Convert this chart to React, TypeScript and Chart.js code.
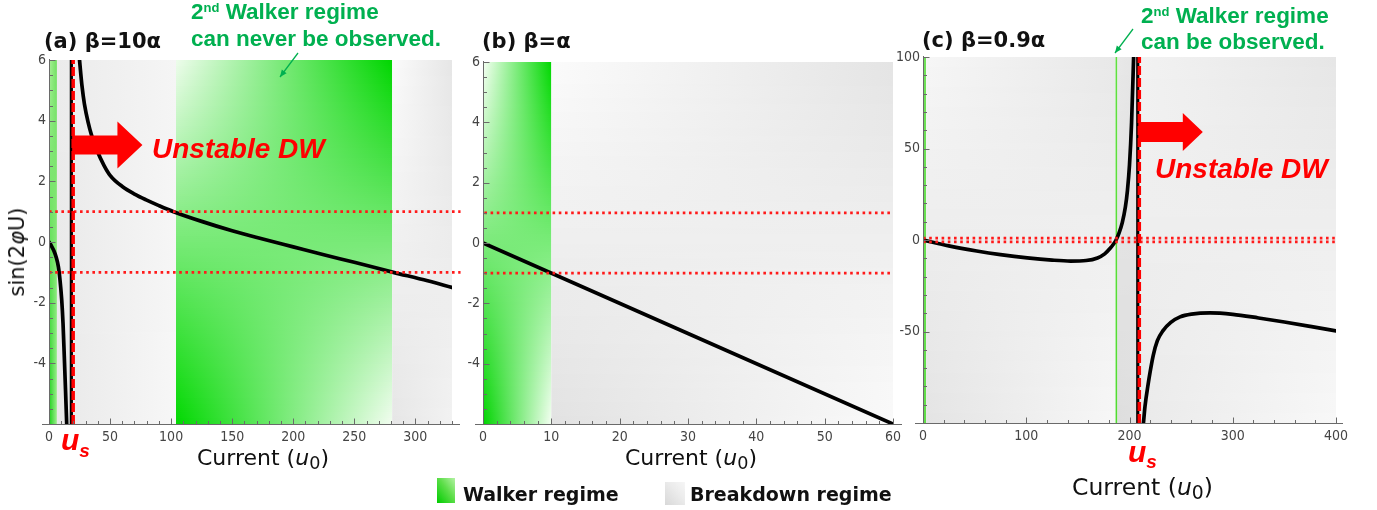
import React, { useEffect, useRef } from "react";
import { Chart, registerables } from "chart.js";
Chart.register(...registerables);

/* ---------------- data ---------------- */
// (a) beta = 10 alpha
const aLeftU = [0, 2, 4, 6, 7.7, 9, 10.4, 11.5, 12.5, 13.5, 14.5];
const aLeftY = [0, -0.13, -0.29, -0.52, -0.82, -1.25, -1.9, -2.7, -3.75, -4.85, -6.0];
const aRightU = [25, 26, 27, 29, 32, 35, 39.5, 45, 50, 60, 70, 80, 90, 102, 125, 150, 175, 200, 225, 250, 282, 310, 330];
const aRightY = [6.0, 5.55, 5.15, 4.55, 3.95, 3.5, 3.0, 2.53, 2.2, 1.83, 1.58, 1.38, 1.2, 1.0, 0.68, 0.37, 0.1, -0.16, -0.42, -0.67, -1.0, -1.28, -1.5];
const aJumpU = 18.3;
const aUs = 19.8;
const aRegionBounds = [0, 6.5, 104, 281, 330];
const aRegionKinds = ["walker", "breakdown", "walker", "breakdown"];
const aXTicks = [0, 50, 100, 150, 200, 250, 300];
const aYTicks = [-4, -2, 0, 2, 4, 6];
const aLimits = [1, -1];

// (b) beta = alpha
const bLineU = [0, 60];
const bLineY = [0, -6];
const bRegionBounds = [0, 10, 60];
const bRegionKinds = ["walker", "breakdown"];
const bXTicks = [0, 10, 20, 30, 40, 50, 60];
const bYTicks = [-4, -2, 0, 2, 4, 6];
const bLimits = [1, -1];

// (c) beta = 0.9 alpha
const cLeftU = [0, 25, 52, 75, 101, 125, 143, 158, 169, 176, 181.5, 184, 187, 190, 193, 196, 198, 200, 202, 204];
const cLeftY = [0, -3.2, -6, -8, -9.8, -11, -11.5, -11.2, -9.8, -7.6, -4.4, -2.6, 0, 4, 9.5, 18, 27, 41, 64, 100];
const cRightU = [213.5, 215, 218, 220, 223, 227, 232.5, 240, 249, 260, 278, 300, 325, 350, 375, 400];
const cRightY = [-100, -91, -79, -72, -63, -55, -49.5, -45, -42, -40.5, -39.8, -40.6, -42.6, -44.8, -47.2, -49.7];
const cJumpU = 208;
const cUs = 209.5;
const cRegionBounds = [0, 3, 186.5, 188.3, 209.5, 400];
const cRegionKinds = ["walker", "breakdown", "walker", "breakdown", "breakdown"];
const cXTicks = [0, 100, 200, 300, 400];
const cYTicks = [-50, 0, 50, 100];
const cLimits = [1, -1];

/* ---------------- styles ---------------- */
type Shade = [string, string, string, string]; // TL, TR, BL, BR
const WALKER_BIG: Shade = ["#eefcec", "#00d600", "#00d800", "#f2fdf0"];

const aShades: Shade[] = [
  ["#a8f098", "#70e060", "#18d018", "#a0ee90"],
  ["#ebebeb", "#f5f5f5", "#e9e9e9", "#f7f7f7"],
  WALKER_BIG,
  ["#fbfbfb", "#e6e6e6", "#e6e6e6", "#f2f2f2"],
];
const bShades: Shade[] = [
  ["#f6fff4", "#00d800", "#00d400", "#f4fff2"],
  ["#fbfbfb", "#e4e4e4", "#e2e2e2", "#fafafa"],
];
const cShades: Shade[] = [
  ["#70e058", "#70e058", "#60dc48", "#60dc48"],
  ["#f6f6f6", "#e8e8e8", "#e4e4e4", "#f7f7f7"],
  ["#60e040", "#60e040", "#50dc30", "#50dc30"],
  ["#e8e8e8", "#e4e4e4", "#dedede", "#e0e0e0"],
  ["#f2f2f2", "#e6e6e6", "#eaeaea", "#f8f8f8"],
];

const TICK_FONT = '"Liberation Sans Narrow", "DejaVu Sans Condensed", "Liberation Sans", sans-serif';
const SANS = '"Liberation Sans", Arial, sans-serif';
const DEJAVU = '"DejaVu Sans", Verdana, sans-serif';
const GREEN = "#00b050";
const RED = "#ff0000";

function hexToRgb(h: string) {
  const n = parseInt(h.slice(1), 16);
  return [(n >> 16) & 255, (n >> 8) & 255, n & 255];
}
function mixHex(a: string, b: string, t: number) {
  const A = hexToRgb(a), B = hexToRgb(b);
  return `rgb(${A.map((v, i) => Math.round(v + (B[i] - v) * t)).join(",")})`;
}
function saddle(ctx: CanvasRenderingContext2D, x0: number, y0: number, x1: number, y1: number, s: Shade) {
  const [tl, tr, bl, br] = s;
  const h = y1 - y0;
  const n = Math.max(1, Math.ceil(h / 2));
  for (let i = 0; i < n; i++) {
    const t = (i + 0.5) / n;
    const g = ctx.createLinearGradient(x0, 0, x1, 0);
    g.addColorStop(0, mixHex(tl, bl, t));
    g.addColorStop(1, mixHex(tr, br, t));
    ctx.fillStyle = g;
    const ya = Math.floor(y0 + (h * i) / n);
    const yb = Math.ceil(y0 + (h * (i + 1)) / n);
    ctx.fillRect(x0, ya, x1 - x0, yb - ya);
  }
}

interface PanelCfg {
  area: { left: number; right: number; top: number; bottom: number };
  x: [number, number];
  y: [number, number];
  xTicks: number[];
  yTicks: number[];
  xMinor: number;
  yMinor: number;
  axisExt: [number, number];
  bounds: number[];
  kinds: string[];
  shades: Shade[];
  curves: [number[], number[]][];
  jump: number | null;
  us: number | null;
  limits: number[];
  limitRange: [number, number];
  arrow?: { tip: number; y: number; body: number; head: number; headL: number };
  note?: [number, number, number, number];
}

function makeChart(canvas: HTMLCanvasElement, c: PanelCfg) {
  const W = 40, H = 30;
  const pts = (u: number[], v: number[]) => u.map((x, i) => ({ x, y: v[i] }));
  const datasets: any[] = [];
  if (c.us !== null)
    datasets.push({
      data: [{ x: c.us, y: c.y[0] }, { x: c.us, y: c.y[1] }],
      borderColor: RED, borderWidth: 3.5, borderDash: [9, 3], showLine: true, pointRadius: 0,
    });
  c.limits.forEach((l) =>
    datasets.push({
      data: [{ x: c.limitRange[0], y: l }, { x: c.limitRange[1], y: l }],
      borderColor: "#ff1a1a", borderWidth: 2.6, borderDash: [2.6, 3.6], showLine: true, pointRadius: 0, clip: false,
    })
  );
  if (c.jump !== null)
    datasets.push({
      data: [{ x: c.jump, y: c.y[0] }, { x: c.jump, y: c.y[1] }],
      borderColor: "#000", borderWidth: 3.2, showLine: true, pointRadius: 0,
    });
  c.curves.forEach(([u, v]) =>
    datasets.push({
      data: pts(u, v), borderColor: "#000", borderWidth: 3.7, showLine: true, pointRadius: 0,
      cubicInterpolationMode: "monotone", borderCapStyle: "round", borderJoinStyle: "round",
    })
  );

  const regionPlugin = {
    id: "regions",
    beforeDatasetsDraw(chart: any) {
      const { ctx, chartArea: ca, scales } = chart;
      ctx.save();
      for (let i = 0; i < c.bounds.length - 1; i++) {
        const x0 = scales.x.getPixelForValue(c.bounds[i]);
        const x1 = scales.x.getPixelForValue(c.bounds[i + 1]);
        saddle(ctx, x0, ca.top, x1, ca.bottom, c.shades[i]);
      }
      ctx.restore();
    },
  };

  const axisPlugin = {
    id: "axesInside",
    afterDatasetsDraw(chart: any) {
      const { ctx, chartArea: ca, scales } = chart;
      const xs = scales.x, ys = scales.y;
      ctx.save();
      ctx.strokeStyle = "#6a6a6a";
      ctx.lineWidth = 1;
      ctx.beginPath();
      const by = Math.round(ca.bottom) + 0.5;
      const lx = Math.round(ca.left) + 0.5;
      ctx.moveTo(ca.left - c.axisExt[0], by);
      ctx.lineTo(ca.right + c.axisExt[1], by);
      ctx.moveTo(lx, ca.top - 1);
      ctx.lineTo(lx, ca.bottom);
      for (let v = c.x[0]; v <= c.x[1] + 1e-9; v += c.xMinor) {
        const major = c.xTicks.some((t) => Math.abs(t - v) < 1e-6);
        const px = Math.round(xs.getPixelForValue(v)) + 0.5;
        ctx.moveTo(px, by);
        ctx.lineTo(px, by - (major ? 6 : 3.5));
      }
      for (let v = c.y[0]; v <= c.y[1] + 1e-9; v += c.yMinor) {
        const major = c.yTicks.some((t) => Math.abs(t - v) < 1e-6);
        const py = Math.round(ys.getPixelForValue(v)) + 0.5;
        ctx.moveTo(lx, py);
        ctx.lineTo(lx + (major ? 6 : 3.5), py);
      }
      ctx.stroke();
      ctx.restore();
    },
    afterDraw(chart: any) {
      const { ctx, scales } = chart;
      ctx.save();
      if (c.arrow && c.us !== null) {
        const a = c.arrow;
        const xs0 = scales.x.getPixelForValue(c.us) - 1;
        const xt = scales.x.getPixelForValue(a.tip);
        const yc = scales.y.getPixelForValue(a.y);
        ctx.beginPath();
        ctx.moveTo(xs0, yc - a.body / 2);
        ctx.lineTo(xt - a.headL, yc - a.body / 2);
        ctx.lineTo(xt - a.headL, yc - a.head / 2);
        ctx.lineTo(xt, yc);
        ctx.lineTo(xt - a.headL, yc + a.head / 2);
        ctx.lineTo(xt - a.headL, yc + a.body / 2);
        ctx.lineTo(xs0, yc + a.body / 2);
        ctx.closePath();
        ctx.fillStyle = RED;
        ctx.fill();
      }
      if (c.note) {
        const [x0, y0, x1, y1] = c.note;
        ctx.strokeStyle = GREEN;
        ctx.fillStyle = GREEN;
        ctx.lineWidth = 1.3;
        ctx.beginPath();
        ctx.moveTo(x0, y0);
        ctx.lineTo(x1, y1);
        ctx.stroke();
        const ang = Math.atan2(y1 - y0, x1 - x0);
        const L = 7, Wd = 3;
        ctx.beginPath();
        ctx.moveTo(x1, y1);
        ctx.lineTo(x1 - L * Math.cos(ang) + Wd * Math.sin(ang), y1 - L * Math.sin(ang) - Wd * Math.cos(ang));
        ctx.lineTo(x1 - L * Math.cos(ang) - Wd * Math.sin(ang), y1 - L * Math.sin(ang) + Wd * Math.cos(ang));
        ctx.closePath();
        ctx.fill();
      }
      ctx.restore();
    },
  };

  const tickFont = { family: TICK_FONT, size: 14 };
  return new Chart(canvas, {
    type: "scatter",
    data: { datasets },
    options: {
      responsive: false,
      animation: false,
      devicePixelRatio: 1,
      events: [],
      layout: {
        padding: {
          left: c.area.left - W,
          top: c.area.top,
          right: 1377 - c.area.right,
          bottom: 510 - c.area.bottom - H,
        },
      },
      plugins: { legend: { display: false }, tooltip: { enabled: false } },
      scales: {
        x: {
          type: "linear",
          min: c.x[0],
          max: c.x[1],
          grid: { display: false, drawTicks: false },
          border: { display: false },
          ticks: { padding: 5, color: "#444", font: tickFont, maxRotation: 0, autoSkip: false },
          afterBuildTicks: (s: any) => {
            s.ticks = c.xTicks.map((v) => ({ value: v }));
          },
          afterFit: (s: any) => {
            s.height = H;
            s.paddingLeft = 0;
            s.paddingRight = 0;
          },
        },
        y: {
          type: "linear",
          min: c.y[0],
          max: c.y[1],
          grid: { display: false, drawTicks: false },
          border: { display: false },
          ticks: { padding: 3, color: "#444", font: tickFont, autoSkip: false },
          afterBuildTicks: (s: any) => {
            s.ticks = c.yTicks.map((v) => ({ value: v }));
          },
          afterFit: (s: any) => {
            s.width = W;
            s.paddingTop = 0;
            s.paddingBottom = 0;
          },
        },
      },
    } as any,
    plugins: [regionPlugin, axisPlugin],
  });
}

const panelA: PanelCfg = {
  area: { left: 49, right: 452, top: 60, bottom: 424 },
  x: [0, 330], y: [-6, 6],
  xTicks: aXTicks, yTicks: aYTicks, xMinor: 10, yMinor: 0.5,
  axisExt: [7, 8],
  bounds: aRegionBounds, kinds: aRegionKinds, shades: aShades,
  curves: [[aLeftU, aLeftY], [aRightU, aRightY]],
  jump: aJumpU, us: aUs, limits: aLimits, limitRange: [0, 337],
  arrow: { tip: 76.5, y: 3.2, body: 19, head: 47, headL: 25 },
  note: [298, 53, 280, 77],
};
const panelB: PanelCfg = {
  area: { left: 483, right: 893, top: 62, bottom: 424 },
  x: [0, 60], y: [-6, 6],
  xTicks: bXTicks, yTicks: bYTicks, xMinor: 2, yMinor: 0.5,
  axisExt: [8, 9],
  bounds: bRegionBounds, kinds: bRegionKinds, shades: bShades,
  curves: [[bLineU, bLineY]],
  jump: null, us: null, limits: bLimits, limitRange: [0.2, 60],
};
const panelC: PanelCfg = {
  area: { left: 923, right: 1336, top: 57, bottom: 423 },
  x: [0, 400], y: [-100, 100],
  xTicks: cXTicks, yTicks: cYTicks, xMinor: 20, yMinor: 10,
  axisExt: [8, 7],
  bounds: cRegionBounds, kinds: cRegionKinds, shades: cShades,
  curves: [[cLeftU, cLeftY], [cRightU, cRightY]],
  jump: cJumpU, us: cUs, limits: cLimits, limitRange: [0, 400],
  arrow: { tip: 271, y: 59, body: 20, head: 38, headL: 20 },
  note: [1133, 29, 1115, 53],
};

const abs = (s: React.CSSProperties): React.CSSProperties => ({
  position: "absolute", whiteSpace: "nowrap", lineHeight: 1, margin: 0, ...s,
});

export default function App() {
  const ra = useRef<HTMLCanvasElement>(null);
  const rb = useRef<HTMLCanvasElement>(null);
  const rc = useRef<HTMLCanvasElement>(null);
  useEffect(() => {
    const charts = [
      makeChart(ra.current!, panelA),
      makeChart(rb.current!, panelB),
      makeChart(rc.current!, panelC),
    ];
    return () => charts.forEach((ch) => ch.destroy());
  }, []);

  const cv: React.CSSProperties = { position: "absolute", left: 0, top: 0, width: 1377, height: 510 };
  const title = `bold 21px ${DEJAVU}`;
  const note = `bold 22.5px ${SANS}`;
  const sup: React.CSSProperties = { fontSize: 13, position: "relative", top: -7.5 };
  const unstable = `italic bold 28px ${SANS}`;
  const axisLbl = (size: number): React.CSSProperties => ({ font: `${size}px ${DEJAVU}`, color: "#111" });
  const sub0: React.CSSProperties = { fontSize: "0.8em", position: "relative", top: "0.22em" };

  return (
    <div style={{ position: "absolute", left: 0, top: 0, width: 1377, height: 510, background: "#fff", overflow: "hidden" }}>
      <canvas ref={ra} width={1377} height={510} style={cv} />
      <canvas ref={rb} width={1377} height={510} style={cv} />
      <canvas ref={rc} width={1377} height={510} style={cv} />

      <div style={abs({ left: 44, top: 29, font: title, color: "#111" })}>(a) β=10α</div>
      <div style={abs({ left: 482, top: 29, font: title, color: "#111" })}>(b) β=α</div>
      <div style={abs({ left: 922, top: 28, font: title, color: "#111" })}>(c) β=0.9α</div>

      <div style={abs({ left: 191, top: -1, font: note, color: GREEN })}>
        2<span style={sup}>nd</span> Walker regime
      </div>
      <div style={abs({ left: 191, top: 26, font: note, color: GREEN })}>can never be observed.</div>
      <div style={abs({ left: 1141, top: 3, font: note, color: GREEN })}>
        2<span style={sup}>nd</span> Walker regime
      </div>
      <div style={abs({ left: 1141, top: 29, font: note, color: GREEN })}>can be observed.</div>

      <div style={abs({ left: 152, top: 133, font: unstable, color: RED })}>Unstable DW</div>
      <div style={abs({ left: 1155, top: 153, font: unstable, color: RED })}>Unstable DW</div>

      <div style={abs({ left: 61, top: 423, font: `italic bold 30px ${SANS}`, color: RED })}>
        u<span style={{ fontSize: 19, position: "relative", top: 7 }}>s</span>
      </div>
      <div style={abs({ left: 1128, top: 435, font: `italic bold 30px ${SANS}`, color: RED })}>
        u<span style={{ fontSize: 19, position: "relative", top: 6 }}>s</span>
      </div>

      <div style={abs({ left: 197, top: 445, ...axisLbl(22) })}>
        Current (<i>u</i><span style={sub0}>0</span>)
      </div>
      <div style={abs({ left: 625, top: 445, ...axisLbl(22) })}>
        Current (<i>u</i><span style={sub0}>0</span>)
      </div>
      <div style={abs({ left: 1072, top: 473, ...axisLbl(23.5) })}>
        Current (<i>u</i><span style={sub0}>0</span>)
      </div>

      <div
        style={abs({
          left: 17, top: 252, transform: "translate(-50%,-50%) rotate(-90deg)",
          font: `21px ${DEJAVU}`, color: "#111",
        })}
      >
        sin(2<i>φ</i>U)
      </div>

      <div style={abs({ left: 437, top: 478, width: 18, height: 25, background: "linear-gradient(to top right, #00cc00 0%, #5ede4a 55%, #b4f2a4 100%)" })} />
      <div style={abs({ left: 463, top: 483, font: `bold 19px ${DEJAVU}`, color: "#111" })}>Walker regime</div>
      <div style={abs({ left: 665, top: 482, width: 20, height: 23, background: "linear-gradient(to top right, #d8d8d8 0%, #ececec 60%, #f6f6f6 100%)" })} />
      <div style={abs({ left: 690, top: 483, font: `bold 19px ${DEJAVU}`, color: "#111" })}>Breakdown regime</div>
    </div>
  );
}
